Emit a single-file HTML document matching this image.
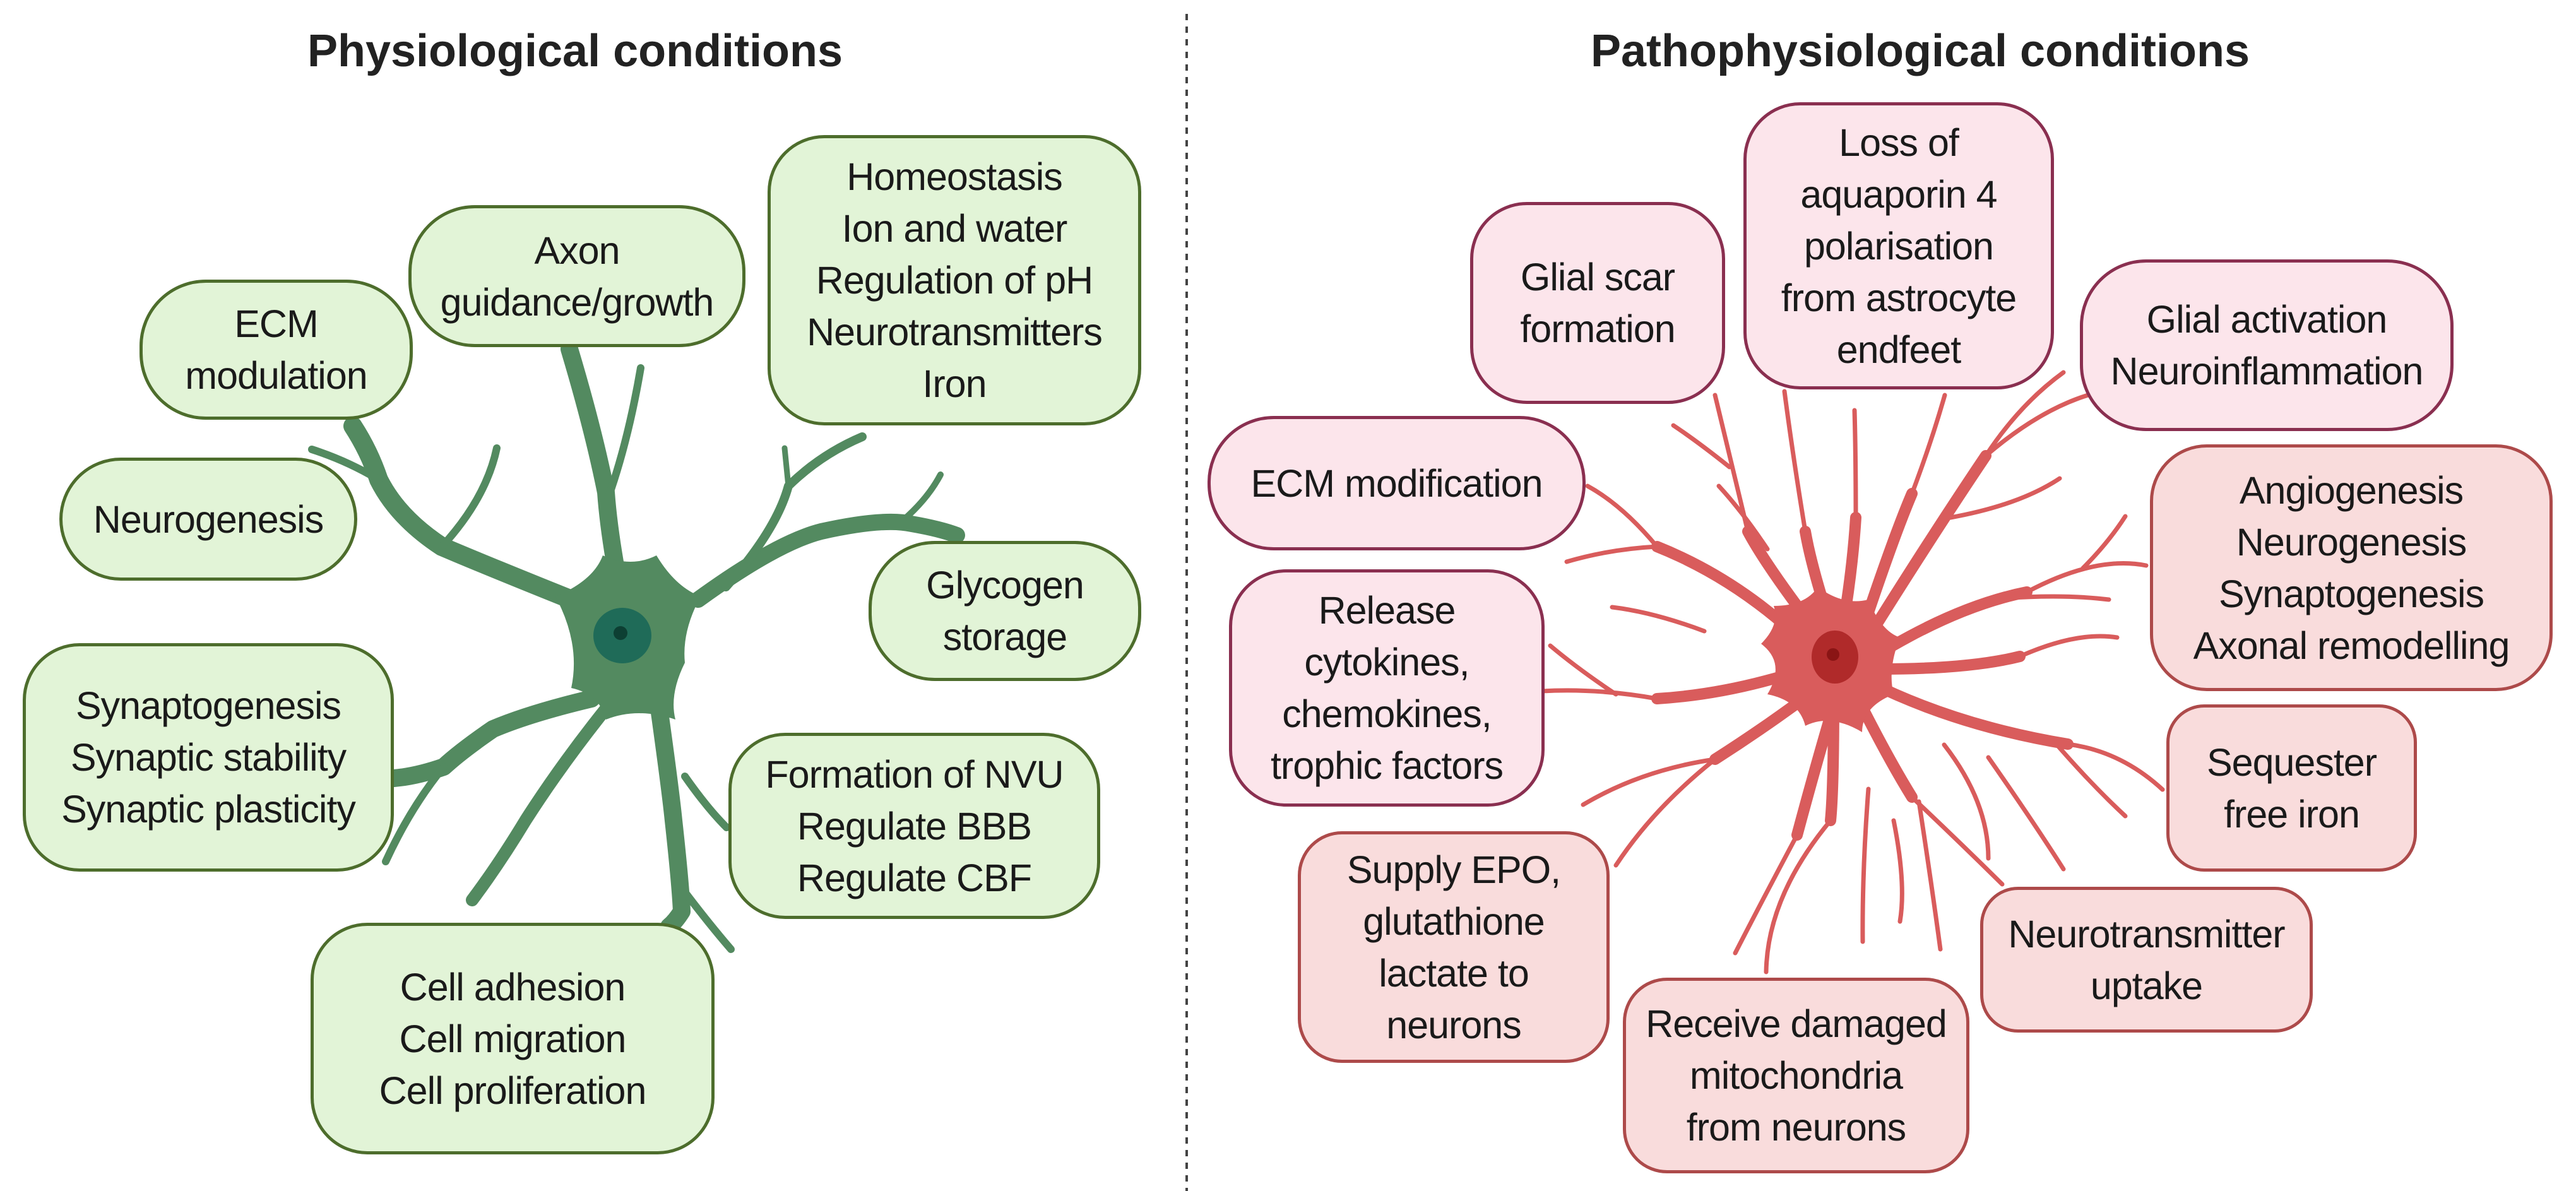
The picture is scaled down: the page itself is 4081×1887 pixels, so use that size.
<!DOCTYPE html>
<html><head><meta charset="utf-8"><style>
html,body{margin:0;padding:0;background:#fff;}
#c{position:relative;width:4081px;height:1887px;overflow:hidden;font-family:"Liberation Sans",Arial,sans-serif;}
svg{position:absolute;left:0;top:0;}
.b{position:absolute;box-sizing:border-box;display:flex;align-items:center;justify-content:center;text-align:center;font-size:61px;line-height:82px;color:#1a1a1a;border-radius:105px;border:5px solid;letter-spacing:-1px;}
.g{background:#e2f4d7;border-color:#4d6d2c;}
.p{background:#fce5eb;border-color:#8a2f50;}
.r{background:#f9dcdc;border-color:#ad4a4a;}
.t{position:absolute;font-weight:bold;font-size:72px;color:#222;top:40px;text-align:center;}
</style></head><body><div id="c">
<div class="t" style="left:411px;width:1000px">Physiological conditions</div>
<div class="t" style="left:2442px;width:1200px">Pathophysiological conditions</div>
<svg width="4081" height="1887" viewBox="0 0 4081 1887">
<line x1="1880" y1="22" x2="1880" y2="1887" stroke="#444" stroke-width="4" stroke-dasharray="10 10"/>
<g fill="none" stroke="#538a60" stroke-linecap="round" stroke-linejoin="round">
<path d="M930 960 Q780 900 700 866 Q630 820 600 760 Q585 715 559 675" stroke-width="30"/>
<path d="M600 760 Q550 730 494 712" stroke-width="12"/>
<path d="M700 866 Q770 790 787 710" stroke-width="12"/>
<path d="M985 950 Q965 850 960 780 Q940 680 902 553" stroke-width="28"/>
<path d="M963 790 Q995 700 1015 583" stroke-width="12"/>
<path d="M1106 950 Q1230 860 1301 842 Q1400 820 1444 830 Q1490 838 1516 848" stroke-width="26"/>
<path d="M1431 824 Q1470 790 1490 752" stroke-width="10"/>
<path d="M1150 930 Q1230 840 1249 770 Q1300 720 1366 692" stroke-width="14"/>
<path d="M1249 770 L1243 710" stroke-width="9"/>
<path d="M937 1107 Q840 1130 781 1155 Q730 1190 703 1215 Q660 1230 624 1233" stroke-width="28"/>
<path d="M703 1215 Q650 1280 611 1365" stroke-width="12"/>
<path d="M1041 1100 Q1062 1250 1067 1300 Q1078 1400 1080 1444 Q1070 1460 1060 1468" stroke-width="28"/>
<path d="M1075 1400 Q1120 1460 1158 1504" stroke-width="12"/>
<path d="M1085 1230 Q1120 1280 1151 1311" stroke-width="12"/>
<path d="M963 1119 Q890 1210 833 1299 Q790 1370 748 1426" stroke-width="20"/>
</g>
<path d="M880 945 Q940 920 955 880 Q1000 900 1040 880 Q1070 930 1110 945 Q1080 1000 1085 1050 Q1060 1100 1070 1140 Q1010 1120 960 1140 Q950 1100 905 1090 Q920 1020 880 945Z" fill="#538a60"/>
<ellipse cx="986" cy="1007" rx="46" ry="44" fill="#1f6b58"/>
<circle cx="983" cy="1003" r="11" fill="#0d3f33"/>
<g fill="none" stroke="#d95c5c" stroke-linecap="round" stroke-linejoin="round">
<g stroke-width="18">
<path d="M2903 1000 Q2870 900 2860 842"/><path d="M2920 990 Q2935 900 2940 820"/>
<path d="M2950 1000 Q3000 850 3029 782"/><path d="M2960 1010 Q3060 850 3146 722"/>
<path d="M2970 1040 Q3100 960 3211 938"/><path d="M2980 1060 Q3120 1060 3200 1040"/>
<path d="M2960 1080 Q3100 1150 3276 1179"/><path d="M2940 1100 Q2990 1200 3029 1263"/>
<path d="M2910 1100 Q2880 1200 2847 1323"/><path d="M2880 1090 Q2800 1150 2717 1203"/>
<path d="M2860 1060 Q2740 1100 2625 1107"/><path d="M2870 1030 Q2760 920 2625 866"/>
<path d="M2885 1010 Q2800 900 2769 842"/><path d="M2905 1100 Q2905 1250 2900 1300"/>
</g>
<g stroke-width="7">
<path d="M2860 842 Q2840 720 2827 620"/><path d="M2940 820 Q2940 720 2938 650"/>
<path d="M3029 782 Q3060 700 3081 626"/><path d="M3146 722 Q3200 640 3269 590"/>
<path d="M3146 722 Q3230 650 3308 626"/><path d="M3090 820 Q3200 800 3263 758"/>
<path d="M3211 938 Q3320 880 3400 896"/><path d="M3300 900 Q3340 860 3367 818"/>
<path d="M3150 950 Q3260 940 3341 950"/><path d="M3200 1040 Q3290 1000 3354 1010"/>
<path d="M3276 1179 Q3360 1190 3426 1251"/><path d="M3250 1170 Q3310 1240 3367 1293"/>
<path d="M3150 1200 Q3220 1300 3269 1377"/><path d="M3029 1263 Q3100 1330 3172 1401"/>
<path d="M3040 1270 Q3060 1400 3074 1504"/><path d="M2960 1250 Q2950 1380 2951 1492"/>
<path d="M2900 1300 Q2800 1420 2798 1540"/><path d="M2847 1323 Q2790 1430 2749 1510"/>
<path d="M2717 1203 Q2620 1280 2560 1371"/><path d="M2717 1203 Q2600 1220 2508 1275"/>
<path d="M2625 1107 Q2530 1090 2443 1095"/><path d="M2560 1100 Q2500 1060 2456 1023"/>
<path d="M2700 1000 Q2620 970 2554 962"/><path d="M2625 866 Q2570 800 2515 770"/>
<path d="M2625 866 Q2550 870 2482 890"/><path d="M2769 842 Q2740 720 2717 626"/>
<path d="M2740 740 Q2690 700 2651 674"/><path d="M2800 870 Q2760 810 2723 770"/>
<path d="M3000 1300 Q3020 1400 3010 1460"/><path d="M3080 1180 Q3150 1270 3150 1360"/>
</g></g>
<path d="M2810 960 Q2860 960 2880 930 Q2920 960 2960 950 Q2980 1000 3010 1010 Q2990 1060 3000 1100 Q2950 1120 2950 1160 Q2900 1130 2860 1150 Q2850 1110 2800 1100 Q2830 1050 2790 1020 Q2820 990 2810 960Z" fill="#d95c5c"/>
<ellipse cx="2907" cy="1041" rx="37" ry="42" fill="#b02a2a"/>
<circle cx="2904" cy="1037" r="10" fill="#8a1515"/>
</svg>
<div class="b g" style="left:221px;top:443px;width:433px;height:222px">ECM<br>modulation</div>
<div class="b g" style="left:647px;top:325px;width:534px;height:225px">Axon<br>guidance/growth</div>
<div class="b g" style="left:1216px;top:214px;width:592px;height:460px;border-radius:90px">Homeostasis<br>Ion and water<br>Regulation of pH<br>Neurotransmitters<br>Iron</div>
<div class="b g" style="left:94px;top:725px;width:472px;height:195px">Neurogenesis</div>
<div class="b g" style="left:1376px;top:857px;width:432px;height:222px">Glycogen<br>storage</div>
<div class="b g" style="left:36px;top:1019px;width:588px;height:362px;border-radius:90px">Synaptogenesis<br>Synaptic stability<br>Synaptic plasticity</div>
<div class="b g" style="left:1154px;top:1161px;width:589px;height:295px;border-radius:90px">Formation of NVU<br>Regulate BBB<br>Regulate CBF</div>
<div class="b g" style="left:492px;top:1462px;width:640px;height:367px;border-radius:90px">Cell adhesion<br>Cell migration<br>Cell proliferation</div>
<div class="b p" style="left:2762px;top:162px;width:492px;height:455px;border-radius:90px">Loss of<br>aquaporin 4<br>polarisation<br>from astrocyte<br>endfeet</div>
<div class="b p" style="left:2329px;top:320px;width:404px;height:320px;border-radius:90px">Glial scar<br>formation</div>
<div class="b p" style="left:3295px;top:411px;width:592px;height:272px">Glial activation<br>Neuroinflammation</div>
<div class="b p" style="left:1913px;top:659px;width:599px;height:213px">ECM modification</div>
<div class="b p" style="left:1947px;top:902px;width:500px;height:376px;border-radius:90px">Release<br>cytokines,<br>chemokines,<br>trophic factors</div>
<div class="b r" style="left:3406px;top:704px;width:638px;height:391px;border-radius:90px">Angiogenesis<br>Neurogenesis<br>Synaptogenesis<br>Axonal remodelling</div>
<div class="b r" style="left:3432px;top:1116px;width:397px;height:265px;border-radius:60px">Sequester<br>free iron</div>
<div class="b r" style="left:2056px;top:1317px;width:494px;height:367px;border-radius:70px">Supply EPO,<br>glutathione<br>lactate to<br>neurons</div>
<div class="b r" style="left:3137px;top:1405px;width:527px;height:231px;border-radius:60px">Neurotransmitter<br>uptake</div>
<div class="b r" style="left:2571px;top:1549px;width:549px;height:310px;border-radius:70px">Receive damaged<br>mitochondria<br>from neurons</div>
</div></body></html>
